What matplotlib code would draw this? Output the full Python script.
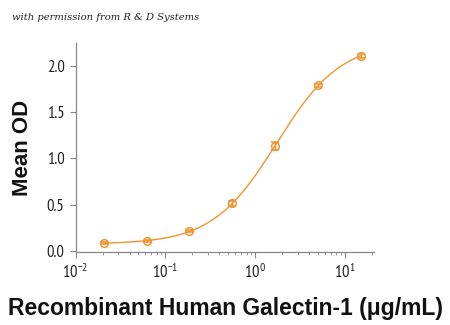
import numpy as np
import matplotlib
matplotlib.use("Agg")
import matplotlib.pyplot as plt
from matplotlib import font_manager as fm
from matplotlib.ticker import FixedLocator, FuncFormatter, LogLocator, NullFormatter

# ---- data ----
conc = [0.0206, 0.0617, 0.185, 0.556, 1.667, 5.0, 15.0]        # µg/mL
mean_od = [0.083, 0.108, 0.213, 0.513, 1.134, 1.79, 2.11]
err = [0.01, 0.01, 0.012, 0.025, 0.04, 0.015, 0.025]
yticks = [0.0, 0.5, 1.0, 1.5, 2.0]
xticks = [0.01, 0.1, 1, 10]
xtick_labels = ["10$^{-2}$", "10$^{-1}$", "10$^{0}$", "10$^{1}$"]

# ---- fonts ----
names = {f.name for f in fm.fontManager.ttflist}
narrow = next((n for n in ["PT Sans Narrow", "Roboto Condensed", "Asap Condensed"] if n in names), "DejaVu Sans")
plt.rcParams["mathtext.fontset"] = "custom"
plt.rcParams["mathtext.rm"] = narrow
plt.rcParams["mathtext.it"] = narrow
plt.rcParams["mathtext.default"] = "rm"

orange = "#EE9530"

fig = plt.figure(figsize=(4.5, 3.25), dpi=100)
ax = fig.add_axes([0.168, 0.224, 0.663, 0.644])

# 4-parameter logistic fit to the data (least squares via grid + linear solve)
x = np.array(conc)
y = np.array(mean_od)
best = None
for lec in np.linspace(-0.5, 1.5, 201):
    for h in np.linspace(0.6, 2.0, 141):
        g = 1.0 / (1.0 + (10**lec / x) ** h)
        A = np.vstack([np.ones_like(g) - g, g]).T
        coef, *_ = np.linalg.lstsq(A, y, rcond=None)
        r = np.sum((A @ coef - y) ** 2)
        if best is None or r < best[0]:
            best = (r, lec, h, coef)
_, lec, h, (bot, top) = best
xf = np.logspace(np.log10(conc[0]), np.log10(conc[-1]), 300)
gf = 1.0 / (1.0 + (10**lec / xf) ** h)
ax.plot(xf, bot + (top - bot) * gf, color=orange, lw=1.0, zorder=2)

ax.errorbar(conc, mean_od, yerr=err, fmt="o", mfc="none", mec=orange,
            ms=5.5, mew=1.1, ecolor=orange, elinewidth=1.0, capsize=3,
            capthick=1.0, zorder=3)

ax.set_xscale("log")
ax.set_xlim(0.01, 21)
ax.set_ylim(-0.015, 2.25)

ax.xaxis.set_major_locator(FixedLocator(xticks))
ax.xaxis.set_major_formatter(FuncFormatter(lambda v, p: dict(zip(xticks, xtick_labels)).get(v, "")))
ax.xaxis.set_minor_locator(LogLocator(base=10, subs=np.arange(2, 10)))
ax.xaxis.set_minor_formatter(NullFormatter())
ax.set_yticks(yticks)
ax.set_yticklabels([f"{v:.1f}" for v in yticks])

for s in ["top", "right"]:
    ax.spines[s].set_visible(False)
for s in ["left", "bottom"]:
    ax.spines[s].set_color("#888888")
    ax.spines[s].set_linewidth(0.9)

ax.tick_params(axis="both", which="major", direction="out", length=4, width=0.8,
               color="#888888", labelsize=12, pad=4)
ax.tick_params(axis="x", which="minor", direction="out", length=2, width=0.6, color="#888888")
for lab in ax.get_yticklabels() + ax.get_xticklabels():
    lab.set_fontfamily([narrow, "DejaVu Sans"])
    lab.set_color("#222222")

fig.text(0.049, 0.545, "Mean OD", rotation=90, ha="center", va="center",
         fontsize=16, fontweight="bold", family=["Liberation Sans", "DejaVu Sans"], color="#111111")
fig.text(0.5, 0.052, "Recombinant Human Galectin-1 (\u03bcg/mL)", ha="center", va="center",
         fontsize=16.5, fontweight="bold", family=["Liberation Sans", "DejaVu Sans"], color="#111111")
fig.text(0.027, 0.947, "with permission from R & D Systems", ha="left", va="center",
         fontsize=7.2, style="italic", family=["DejaVu Serif"], color="#222222")

fig.savefig("out.png", dpi=100)
